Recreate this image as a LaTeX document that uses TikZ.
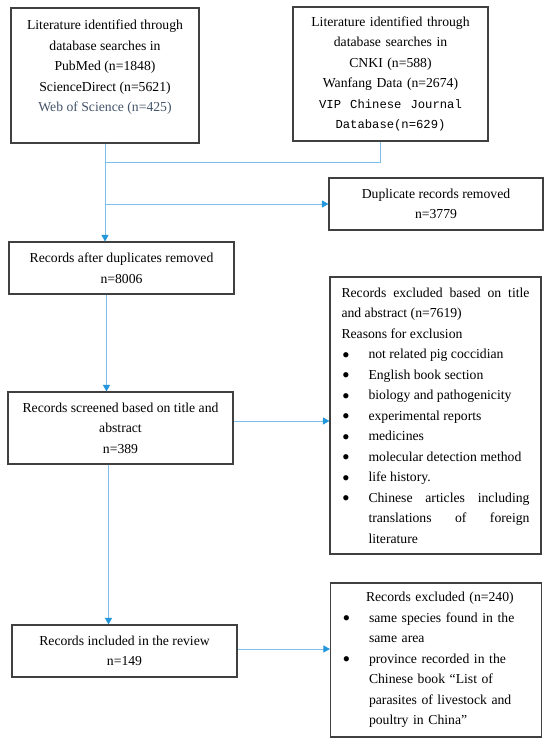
\documentclass[tikz,border=0pt]{standalone}
\usepackage{fontspec}
\setmainfont{Liberation Serif}
\newfontfamily\vipfont{Liberation Mono}
\usepackage{graphicx}
\usepackage{tikz}
\usetikzlibrary{arrows.meta,calc,positioning}
\usepackage{xcolor}
\definecolor{Flowline}{RGB}{125,190,235}
\definecolor{Flowtip}{RGB}{35,150,220}
\definecolor{Slate}{RGB}{68,84,106}
\newcommand{\exclitem}[1]{\par\hangindent=27pt\hangafter=1\noindent
  \makebox[27pt][l]{\hspace{0.5pt}\raisebox{-0.25em}{\scalebox{1.6}{\textbullet}}}#1\par}

\begin{document}
\begin{tikzpicture}[x=1pt,y=-1pt,
  recbox/.style={draw=black!75,line width=1.1pt,inner sep=0pt,align=center,
    font=\fontsize{13.7}{20.5}\selectfont},
  exclbox/.style={recbox,text width=188pt,minimum width=211pt,
    execute at begin node={\parindent=0pt\hyphenpenalty=10000\exhyphenpenalty=10000\tolerance=10000}},
  link/.style={Flowline,line width=1pt},
  flow/.style={link,-{Triangle[length=6.5pt,width=7pt,color=Flowtip]}}]
\useasboundingbox (0,0) rectangle (550,746);
%
% search boxes
\node[recbox,minimum width=188pt,minimum height=135pt] (pubmed) at (105,75.5)
  {\parbox[c][111pt][t]{180pt}{\centering Literature identified through\\ database searches in\\ PubMed (n=1848)\\ ScienceDirect (n=5621)\\ \textcolor{Slate}{Web of Science (n=425)}}};
\node[recbox,minimum width=195pt,minimum height=134pt,text width=185pt] (cnki) at (390.5,74)
  {Literature identified through\\ database searches in\\ CNKI (n=588)\\ Wanfang Data (n=2674)\\
   {\vipfont\fontsize{12.2}{20.5}\selectfont VIP\ \ Chinese\ \ Journal}\\
   {\vipfont\fontsize{12.2}{20.5}\selectfont Database(n=629)}};
%
% left column
\node[recbox,minimum width=225pt,minimum height=52pt] (after) at (121.5,268) {Records after duplicates removed\\ n=8006};
\node[recbox,minimum width=225pt,minimum height=72pt] (screened) at (120.5,428) {Records screened based on title and\\ abstract\\ n=389};
\node[recbox,minimum width=225pt,minimum height=52pt] (included) at (124.5,651) {Records included in the review\\ n=149};
%
% right column
\node[recbox,minimum width=214pt,minimum height=52pt] (dupl) at (436,204) {Duplicate records removed\\ n=3779};
\node[exclbox,align=justify,minimum height=277pt] (excl) at (435.5,415.5)
  {\spaceskip=3.4pt plus 14pt minus 0.5pt
   Records excluded based on title and abstract (n=7619)\par
   Reasons for exclusion
   \exclitem{not related pig coccidian}
   \exclitem{English book section}
   \exclitem{biology and pathogenicity}
   \exclitem{experimental reports}
   \exclitem{medicines}
   \exclitem{molecular detection method}
   \exclitem{life history.}
   \exclitem{Chinese articles including translations of foreign literature}};
\node[exclbox,align=left,minimum height=154pt] (exclfinal) at (436,660)
  {\noindent\hspace*{24pt}Records excluded (n=240)
   \exclitem{same species found in the same area}
   \exclitem{province recorded in the Chinese book “List of parasites of livestock and poultry in China”}};
%
% connectors
\coordinate (junction) at ([yshift=-19pt]pubmed.south);
\draw[link] ([xshift=-10.5pt]cnki.south) |- (junction);
\draw[flow] (pubmed.south) -- (pubmed.south |- after.north);
\draw[flow] (pubmed.south |- dupl.west) -- (dupl.west);
\draw[flow] ([xshift=-15pt]after.south) -- ([xshift=-15pt]after.south |- screened.north);
\draw[flow] ([yshift=7pt]screened.east) -- ([yshift=7pt]screened.east -| excl.west);
\draw[flow] ([xshift=-12pt]screened.south) -- ([xshift=-12pt]screened.south |- included.north);
\draw[flow] ([yshift=2pt]included.east) -- ([yshift=2pt]included.east -| exclfinal.west);
%
\end{tikzpicture}
\end{document}
